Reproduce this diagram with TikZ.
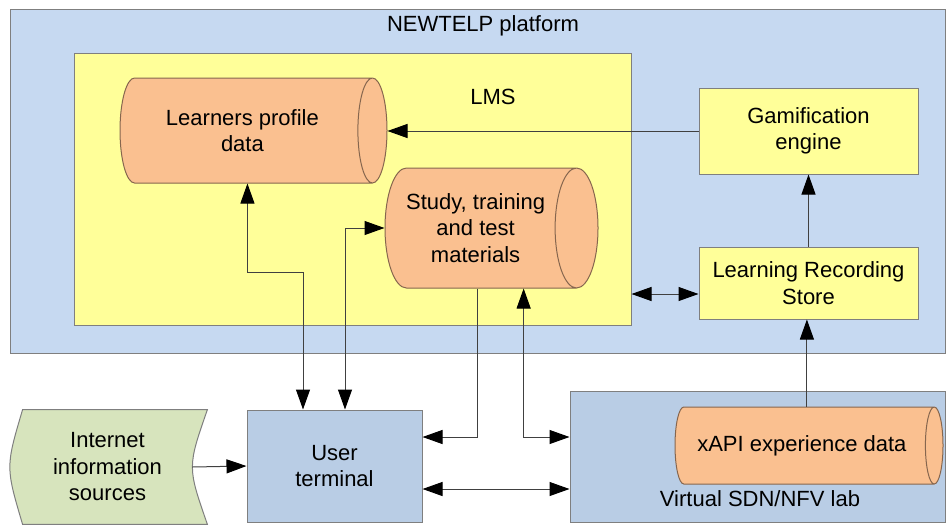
\documentclass[tikz,border=0pt]{standalone}
\usepackage{fontspec}
\setmainfont{Liberation Sans}
\usetikzlibrary{shapes.geometric,arrows.meta,calc,backgrounds}
\definecolor{platblue}{HTML}{C6D9F1}
\definecolor{lmsyellow}{HTML}{FFFF99}
\definecolor{dbpeach}{HTML}{FAC090}
\definecolor{termblue}{HTML}{B9CDE5}
\definecolor{inetgreen}{HTML}{D7E4BD}
\definecolor{edgegray}{HTML}{7F7F7F}
\definecolor{dbedge}{HTML}{86664E}
\tikzset{
 box/.style={draw=edgegray, line width=0.5pt, align=center},
 dbase/.style={cylinder, draw=dbedge, fill=dbpeach, line width=0.5pt, aspect=0.52, align=center, anchor=shape center},
 link/.style={draw=black!75, line width=0.5pt}
}
\begin{document}
\begin{tikzpicture}[x=0.5pt, y=-0.5pt, font=\fontsize{11}{13.25}\selectfont, >={Triangle[length=10pt,width=7pt,color=black]}]
 \useasboundingbox (0,0) rectangle (946,525); %全体の大きさ
 \node[box, fill=platblue, minimum width=467.5pt, minimum height=172pt] (plat) at (477.5,181) {}; %NEWTELP
 \node (platname) at (483,26) {NEWTELP platform}; %タイトル
 \node[box, fill=lmsyellow, minimum width=278.5pt, minimum height=136pt] (lms) at (352.5,189) {}; %LMS
 \node (lmsname) at (493,97) {LMS}; %LMSの名前
 \node[dbase, minimum height=133.5pt, minimum width=52.5pt] (learn) at (253.5,130.5) {Learners profile\\data}; %学習者データ
 \node[dbase, minimum height=106.5pt, minimum width=60pt] (study) at (491.5,228) {Study, training\\and test\\materials}; %教材
 \node[box, fill=lmsyellow, minimum width=109.5pt, minimum height=43pt] (gam) at (808.5,131) {Gamification\\engine}; %ゲーミフィケーション
 \node[box, fill=lmsyellow, minimum width=109.5pt, minimum height=36pt] (lrs) at (808.5,283) {Learning Recording\\Store}; %LRS
 \node[box, fill=termblue, minimum width=187.5pt, minimum height=65.5pt] (lab) at (757.5,456.5) {}; %仮想ラボ
 \node (labname) at (760,499) {Virtual SDN/NFV lab}; %ラボの名前
 \node[dbase, minimum height=134pt, minimum width=38.5pt] (xapi) at (809,445.5) {xAPI experience data}; %xAPIデータ
 \node[box, fill=termblue, minimum width=87.5pt, minimum height=56pt] (term) at (334.5,466) {User\\terminal}; %端末
 \node[align=center, minimum width=84.5pt, minimum height=57pt] (inet) at (107.5,467) {Internet\\information\\sources}; %インターネット
 \begin{scope}[on background layer]
  \draw[edgegray, fill=inetgreen, line width=0.5pt] (inet.north west) -- ($(inet.north east)+(15,0)$) .. controls ($(inet.east)+(-5,0)$) .. ($(inet.south east)+(15,0)$) -- (inet.south west) .. controls ($(inet.west)+(-17,0)$) .. cycle; %輪郭
 \end{scope}
 \coordinate (tl) at ($(term.east)+(0,23)$); %端末右下
 \coordinate (xtop) at ($(xapi.north)+(5,0)$); %xAPI上
 \draw[link, ->] (gam.west) -- (gam.west -| learn.east); %ゲーム→学習者
 \draw[link, ->] (lrs) -- (gam); %LRS→ゲーム
 \draw[link, ->] (xtop) -- (xtop |- lrs.south); %xAPI→LRS
 \draw[link, <->] ([yshift=-5.5pt]lrs.west -| lms.east) -- ([yshift=-5.5pt]lrs.west); %LMS↔LRS
 \draw[link, <->] ($(learn.south)+(5,0)$) |- ($(term.north)+(-31.5,-137)$) -- ($(term.north)+(-31.5,0)$); %学習者↔端末
 \draw[link, <->] ($(term.north)+(10.5,0)$) |- (study.west); %端末↔教材
 \draw[link, ->] ($(study.south)+(2,0)$) |- ($(term.east)+(0,-29)$); %教材→端末
 \draw[link, <->] ($(study.south)+(48,0)$) |- ($(lab.west)+(0,-19.5)$); %教材↔ラボ
 \draw[link, <->] (tl) -- (tl -| lab.west); %端末↔ラボ
 \draw[link, ->] (inet.east) -- (term.west); %インターネット→端末
\end{tikzpicture}
\end{document}
